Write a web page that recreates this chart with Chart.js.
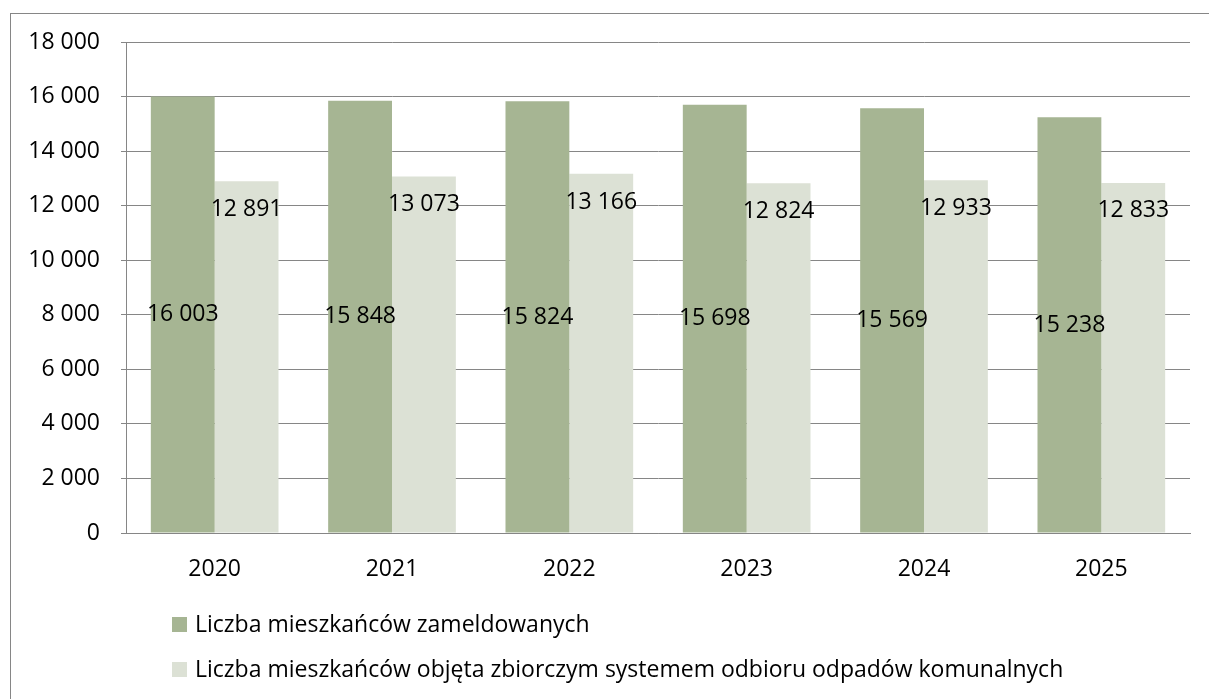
<!DOCTYPE html>
<html>
<head>
<meta charset="utf-8">
<script src="https://cdn.jsdelivr.net/npm/chart.js@4"></script>
<style>
  html, body { margin: 0; padding: 0; background: #fff; }
  #wrap { width: 1209px; height: 699px; position: relative; }
</style>
</head>
<body>
<div id="wrap"><canvas id="c"></canvas></div>
<script>
// dane z wykresu
const lata = ["2020", "2021", "2022", "2023", "2024", "2025"];
const zameldowani = [16003, 15848, 15824, 15698, 15569, 15238];
const objeci = [12891, 13073, 13166, 12824, 12933, 12833];
const etykietySerii = [
  "Liczba mieszkańców zameldowanych",
  "Liczba mieszkańców objęta zbiorczym systemem odbioru odpadów komunalnych"
];
const yMax = 18000;
const yKrok = 2000;

const FONT = "'Open Sans', sans-serif";
const GRID = "#868686";

// "16 003" -- spacja jako separator tysięcy (też dla 4 cyfr)
function fmt(v) {
  return String(v).replace(/\B(?=(\d{3})+(?!\d))/g, " ");
}

// ramka wokół całego wykresu
const ramka = {
  id: "ramka",
  beforeDraw(chart) {
    const ctx = chart.ctx;
    ctx.save();
    ctx.strokeStyle = GRID;
    ctx.lineWidth = 1;
    ctx.strokeRect(10.5, 13.5, chart.width + 10, chart.height + 10);
    ctx.restore();
  }
};

// etykiety wartości w słupkach
const etykiety = {
  id: "etykiety",
  afterDatasetsDraw(chart) {
    const ctx = chart.ctx;
    const y = chart.scales.y;
    ctx.save();
    ctx.font = "23px " + FONT;
    ctx.fillStyle = "#000";
    ctx.textAlign = "center";
    ctx.textBaseline = "middle";
    chart.data.datasets.forEach((ds, di) => {
      const meta = chart.getDatasetMeta(di);
      const f = di === 0 ? 0.5 : 0.92;
      meta.data.forEach((bar, i) => {
        const v = ds.data[i];
        ctx.fillText(fmt(v), bar.x, y.getPixelForValue(v * f));
      });
    });
    ctx.restore();
  }
};

// legenda pod wykresem, dwa wiersze wyrównane do lewej
const legenda = {
  id: "legenda",
  afterDraw(chart) {
    const ctx = chart.ctx;
    ctx.save();
    ctx.font = "23px " + FONT;
    ctx.textBaseline = "middle";
    ctx.textAlign = "left";
    chart.data.datasets.forEach((ds, i) => {
      const cy = 625 + i * 45;
      ctx.fillStyle = ds.backgroundColor;
      ctx.fillRect(172, cy - 8, 15, 15);
      ctx.fillStyle = "#000";
      ctx.fillText(ds.label, 195, cy);
    });
    ctx.restore();
  }
};

new Chart(document.getElementById("c"), {
  type: "bar",
  data: {
    labels: lata,
    datasets: [
      { label: etykietySerii[0], data: zameldowani, backgroundColor: "#a6b593" },
      { label: etykietySerii[1], data: objeci, backgroundColor: "#dce1d5" }
    ]
  },
  options: {
    responsive: true,
    maintainAspectRatio: false,
    animation: false,
    layout: { padding: { top: 42, right: 19, bottom: 100, left: 0 } },
    datasets: {
      bar: { categoryPercentage: 0.72, barPercentage: 1.0 }
    },
    plugins: {
      legend: { display: false },
      tooltip: { enabled: false }
    },
    scales: {
      x: {
        grid: { display: false, drawTicks: false },
        border: { color: GRID, width: 1 },
        ticks: { color: "#000", font: { family: FONT, size: 23 }, padding: 23 },
        afterFit(s) { s.height = 66; }
      },
      y: {
        min: 0,
        max: yMax,
        grid: { color: GRID, tickLength: 5, tickColor: GRID },
        border: { color: GRID, width: 1 },
        ticks: {
          stepSize: yKrok,
          color: "#000",
          font: { family: FONT, size: 23 },
          padding: 21,
          callback: v => fmt(v)
        },
        afterFit(s) { s.width = 126; }
      }
    }
  },
  plugins: [ramka, etykiety, legenda]
});
</script>
</body>
</html>
